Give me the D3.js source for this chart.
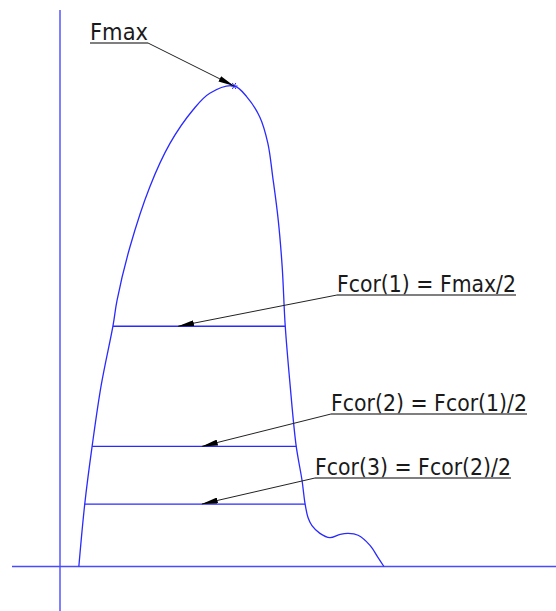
<!DOCTYPE html>
<html>
<head>
<meta charset="utf-8">
<script src="https://cdn.jsdelivr.net/npm/d3@7"></script>
<style>
  html, body { margin: 0; padding: 0; background: white; }
  #container { width: 556px; height: 611px; }
</style>
</head>
<body>
<div id="container"></div>
<script>
// force / displacement curve (Fmax = 100)
const dispX = [3.8, 5.0, 6.5, 8.3, 10.7, 11.5, 14.1, 18.1, 22.2, 26.8, 30.2, 35.1,
               37.7, 40.3, 41.9, 42.9, 44.0, 44.8, 45.4, 46.4, 47.6, 48.8, 49.4, 50.0,
               50.8, 52.4, 54.4, 56.5, 58.1, 60.1, 62.5, 64.1, 65.3];
const force = [0, 13.1, 25.2, 37.7, 50.2, 55.4, 66.5, 79.0, 88.1, 95.0, 98.5, 100,
               97.7, 93.5, 88.1, 81.0, 72.1, 62.3, 50.2, 37.7, 25.2, 17.9, 13.1, 10.2,
               8.5, 6.9, 6.0, 6.7, 6.9, 6.5, 4.4, 1.9, 0];

const fcorLevels = [50, 25, 13];
const fcorArrowX = [23.8, 28.6, 28.6];
const fcorLabels = ['Fcor(1) = Fmax/2', 'Fcor(2) = Fcor(1)/2', 'Fcor(3) = Fcor(2)/2'];
const fmaxLabel = 'Fmax';

let w = 556, h = 611;

let viz = d3.select('#container')
    .append('svg')
      .attr('width', w)
      .attr('height', h)
      .style('background', 'white');

let x = d3.scaleLinear().domain([0, 100]).range([60, 556]);
let y = d3.scaleLinear().domain([0, 100]).range([566.5, 86]);

let blue = '#2a2aff';

// arrow head
viz.append('defs').append('marker')
    .attr('id', 'arrow')
    .attr('markerUnits', 'userSpaceOnUse')
    .attr('viewBox', '0 0 16 6')
    .attr('refX', 16)
    .attr('refY', 3)
    .attr('markerWidth', 16)
    .attr('markerHeight', 6)
    .attr('orient', 'auto')
  .append('path')
    .attr('d', 'M0,0 L16,3 L0,6 Z')
    .attr('fill', 'black');

// axes (cross lines)
viz.append('line')
    .attr('x1', 12).attr('x2', w)
    .attr('y1', y(0)).attr('y2', y(0))
    .attr('stroke', '#4a4aff').attr('stroke-width', 1.4);
viz.append('line')
    .attr('x1', x(0)).attr('x2', x(0))
    .attr('y1', 10).attr('y2', h)
    .attr('stroke', '#4a4aff').attr('stroke-width', 1.4);

// curve
let pts = dispX.map((d, i) => [d, force[i]]);
let line = d3.line()
    .x(d => x(d[0]))
    .y(d => y(d[1]))
    .curve(d3.curveCatmullRom);

viz.append('path')
    .datum(pts)
    .attr('d', line)
    .attr('fill', 'none')
    .attr('stroke', blue)
    .attr('stroke-width', 1.3);

// peak
let iMax = d3.maxIndex(force);
let px = x(dispX[iMax]), py = y(force[iMax]);
let star = viz.append('g').attr('stroke', blue).attr('stroke-width', 1);
[0, 60, 120].forEach(a => {
    let r = 3.5, t = a * Math.PI / 180;
    star.append('line')
        .attr('x1', px - r * Math.cos(t)).attr('y1', py - r * Math.sin(t))
        .attr('x2', px + r * Math.cos(t)).attr('y2', py + r * Math.sin(t));
});

// where a level cuts the curve, left and right of the peak
function crossAt(level, side) {
    let idx = side === 'left' ? d3.range(0, iMax) : d3.range(iMax, pts.length - 1);
    for (let i of idx) {
        let a = pts[i], b = pts[i + 1];
        if ((a[1] - level) * (b[1] - level) <= 0 && a[1] !== b[1]) {
            return a[0] + (level - a[1]) / (b[1] - a[1]) * (b[0] - a[0]);
        }
    }
    return null;
}

let levels = viz.append('g');
fcorLevels.forEach(lv => {
    levels.append('line')
        .attr('x1', x(crossAt(lv, 'left')))
        .attr('x2', x(crossAt(lv, 'right')))
        .attr('y1', y(lv)).attr('y2', y(lv))
        .attr('stroke', blue).attr('stroke-width', 1.3);
});

// labels with underline + leader
let labels = viz.append('g')
    .attr('font-family', 'DejaVu Sans')
    .attr('font-size', 23)
    .attr('fill', '#1a1a1a');

function label(txt, tx, ty, width, ax, ay, fromRight) {
    labels.append('text')
        .attr('x', tx).attr('y', ty - 3)
        .attr('textLength', width)
        .attr('lengthAdjust', 'spacingAndGlyphs')
        .text(txt);
    viz.append('line')
        .attr('x1', tx).attr('x2', tx + width)
        .attr('y1', ty).attr('y2', ty)
        .attr('stroke', '#555').attr('stroke-width', 1.4);
    viz.append('line')
        .attr('x1', fromRight ? tx + width : tx).attr('y1', ty)
        .attr('x2', ax).attr('y2', ay)
        .attr('stroke', '#222').attr('stroke-width', 1)
        .attr('marker-end', 'url(#arrow)');
}

label(fmaxLabel, 90, 43, 58, px, py, true);

let labelPos = [[337, 295, 179], [331, 414, 196], [315, 478, 196]];
fcorLabels.forEach((t, i) => {
    label(t, labelPos[i][0], labelPos[i][1], labelPos[i][2],
          x(fcorArrowX[i]), y(fcorLevels[i]), false);
});
</script>
</body>
</html>
